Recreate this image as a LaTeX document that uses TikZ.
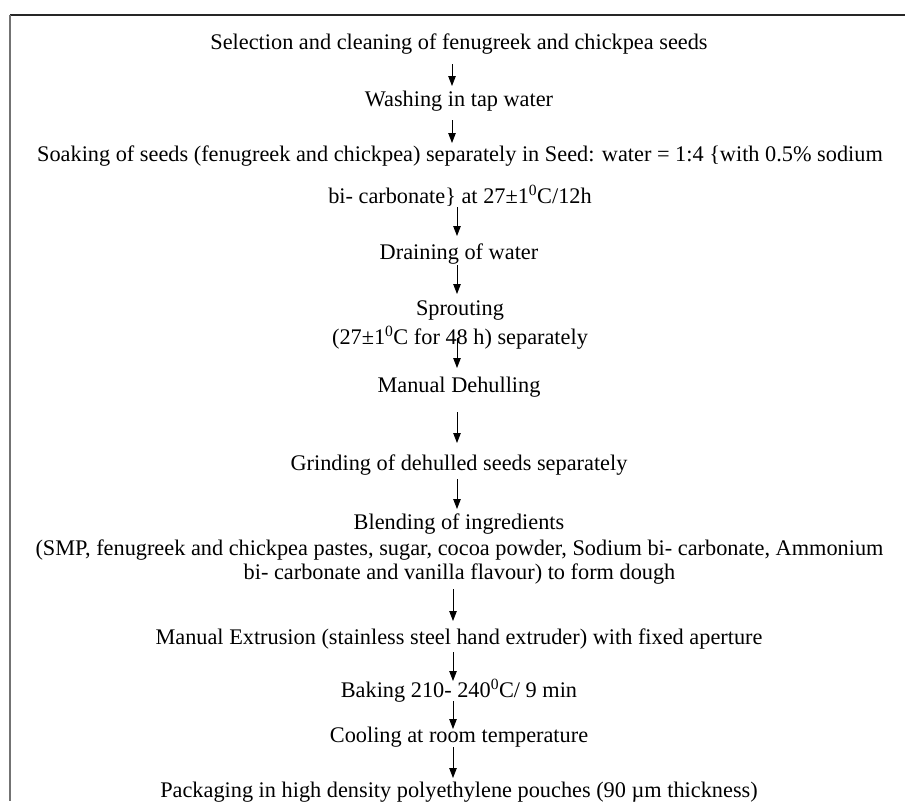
\documentclass[tikz,border=0pt]{standalone}
\usepackage{fontspec}
\setmainfont{Liberation Serif}
\usetikzlibrary{arrows.meta}
\begin{document}
\begin{tikzpicture}[x=1pt,y=-1pt,
  txt/.style={anchor=base,inner sep=0pt,font=\fontsize{22.3}{26}\selectfont},
  arr/.style={line width=0.9pt,-{Triangle[length=10pt,width=7.5pt]}},
  frameline/.style={line width=1.2pt}]
\useasboundingbox (0,0) rectangle (905,801);
\fill[white] (0,0) rectangle (905,801);
% frame
\coordinate (ftl) at (10,15);
\coordinate (ftr) at (905,15);
\coordinate (fbl) at (10,801);
\draw[frameline,black!85] (ftl) -- (ftr);
\draw[line width=1.8pt,black!55] (ftl) -- (fbl);
% texts
\node[txt] (n1) at (459,49) {Selection and cleaning of fenugreek and chickpea seeds};
\node[txt] (n2) at (459,106) {Washing in tap water};
\node[txt] (n3a) at (460,161) {Soaking of seeds (fenugreek and chickpea) separately in Seed: water = 1:4 \{with 0.5\% sodium};
\node[txt] (n3b) at (460,203) {bi- carbonate\} at 27±1\textsuperscript{0}C/12h};
\node[txt] (n4) at (459,259) {Draining of water};
\node[txt] (n5a) at (460,315) {Sprouting};
\node[txt] (n5b) at (460,344) {(27±1\textsuperscript{0}C for 48 h) separately};
\node[txt] (n6) at (459,392) {Manual Dehulling};
\node[txt] (n7) at (459,470) {Grinding of dehulled seeds separately};
\node[txt] (n8a) at (459,529) {Blending of ingredients};
\node[txt] (n8b) at (459.5,555) {(SMP, fenugreek and chickpea pastes, sugar, cocoa powder, Sodium bi- carbonate, Ammonium};
\node[txt] (n8c) at (459.5,579) {bi- carbonate and vanilla flavour) to form dough};
\node[txt] (n9) at (459,644) {Manual Extrusion (stainless steel hand extruder) with fixed aperture};
\node[txt] (n10) at (459,697) {Baking 210- 240\textsuperscript{0}C/ 9 min};
\node[txt] (n11) at (459,742) {Cooling at room temperature};
\node[txt] (n12) at (459,797) {Packaging in high density polyethylene pouches (90 µm thickness)};
% arrow end points
\coordinate (a1s) at (452,64);  \coordinate (a1e) at (452,86);
\coordinate (a2s) at (452,120); \coordinate (a2e) at (452,143);
\coordinate (a3s) at (457,207); \coordinate (a3e) at (457,236);
\coordinate (a4s) at (457,265); \coordinate (a4e) at (457,294);
\coordinate (a5s) at (457,338); \coordinate (a5e) at (457,368);
\coordinate (a6s) at (457,412); \coordinate (a6e) at (457,443);
\coordinate (a7s) at (457,479); \coordinate (a7e) at (457,509);
\coordinate (a8s) at (453,589); \coordinate (a8e) at (453,621);
\coordinate (a9s) at (453,652); \coordinate (a9e) at (453,681);
\coordinate (a10s) at (453,701); \coordinate (a10e) at (453,729);
\coordinate (a11s) at (453,747); \coordinate (a11e) at (453,778);
\foreach \i in {1,...,11} {\draw[arr] (a\i s) -- (a\i e);}
\end{tikzpicture}
\end{document}
